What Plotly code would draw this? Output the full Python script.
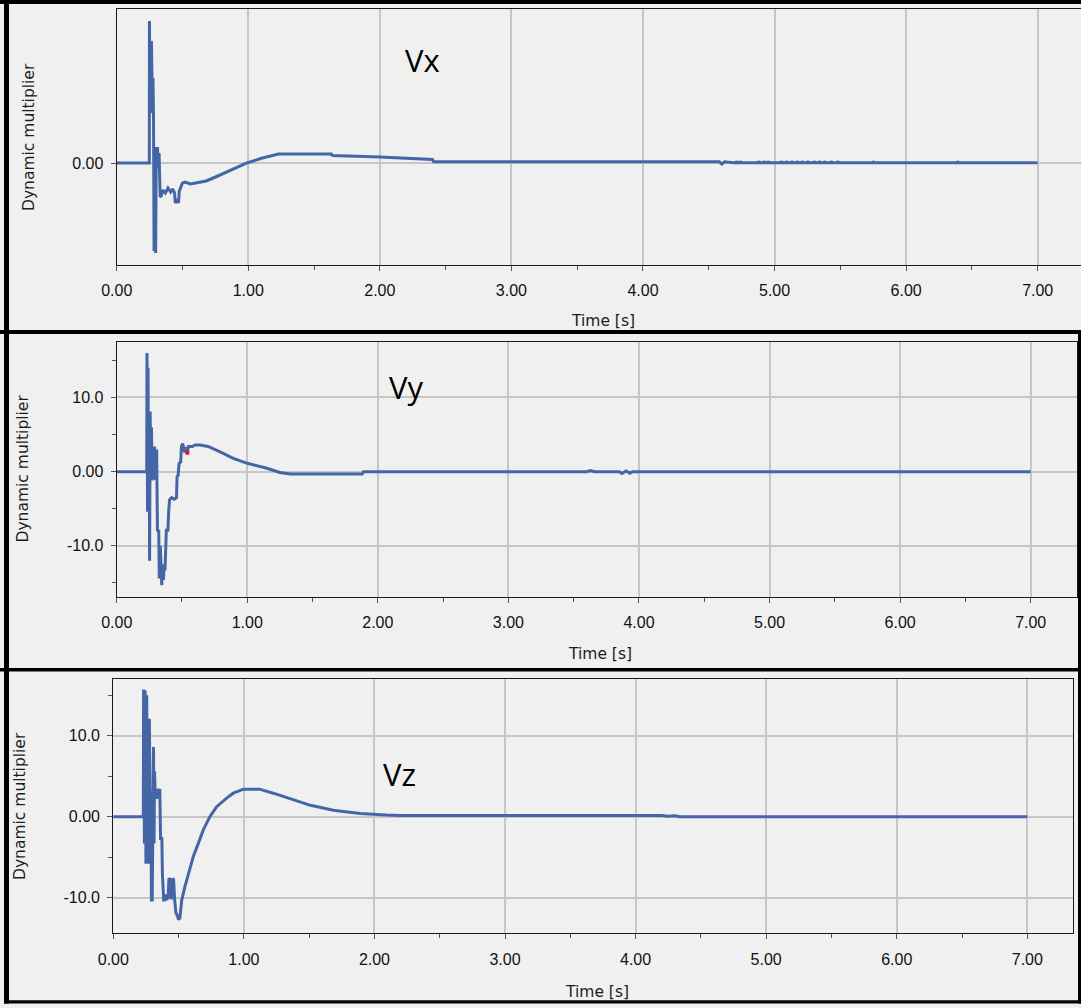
import plotly.graph_objects as go

# ---- data: dynamic multiplier time histories (time in s) ----
VX_T = [0.0, 0.248, 0.249, 0.252, 0.256, 0.260, 0.264, 0.268, 0.272, 0.276, 0.280,
        0.284, 0.290, 0.296, 0.301, 0.305, 0.310, 0.316, 0.322, 0.330, 0.337, 0.350,
        0.370, 0.390, 0.410, 0.425, 0.440, 0.445, 0.460, 0.470, 0.476, 0.490, 0.500,
        0.520, 0.560, 0.600, 0.680, 0.760, 0.990, 1.100, 1.230, 1.630, 1.640, 2.000,
        2.200, 2.400, 2.410, 4.580, 4.600, 4.620, 4.690, 7.000]
VX_V = [0.0, 0.0, 1.42, 0.55, 1.22, 0.55, 1.22, 0.85, 0.50, 0.85, 0.41,
        -0.88, -0.80, -0.90, 0.16, -0.05, 0.16, -0.05, 0.10, -0.33, -0.34, -0.27,
        -0.30, -0.25, -0.29, -0.26, -0.30, -0.40, -0.36, -0.40, -0.28, -0.22, -0.20,
        -0.19, -0.21, -0.20, -0.18, -0.135, 0.0, 0.047, 0.09, 0.09, 0.075, 0.06,
        0.05, 0.035, 0.012, 0.012, -0.01, 0.012, 0.003, 0.003]
# small numerical chatter on the settled Vx signal (time, peak)
VX_CHATTER_T = [4.71, 4.74, 4.88, 4.92, 4.95, 5.05, 5.09, 5.13, 5.17, 5.21, 5.25,
                5.30, 5.34, 5.38, 5.43, 5.48, 5.75, 6.39]
VX_CHATTER_V = [0.022, 0.022, 0.022, 0.022, 0.022, 0.022, 0.022, 0.022, 0.022, 0.022,
                0.022, 0.022, 0.022, 0.022, 0.022, 0.022, 0.02, 0.02]

VY_T = [0.0, 0.230, 0.232, 0.236, 0.240, 0.244, 0.248, 0.252, 0.256, 0.262, 0.266,
        0.272, 0.278, 0.284, 0.290, 0.298, 0.306, 0.312, 0.322, 0.326, 0.334, 0.340,
        0.345, 0.352, 0.358, 0.364, 0.370, 0.380, 0.392, 0.398, 0.405, 0.420, 0.440,
        0.458, 0.462, 0.470, 0.478, 0.490, 0.496, 0.505, 0.512, 0.520, 0.530, 0.540,
        0.550, 0.580, 0.600, 0.640, 0.700, 0.740, 0.800, 0.893, 1.000, 1.150, 1.250,
        1.330, 1.880, 1.890, 3.600, 3.630, 3.660, 3.850, 3.870, 3.900, 3.930, 3.950,
        7.000]
VY_V = [0.0, 0.0, 16.0, -5.4, 14.0, -5.4, 8.0, -12.0, 8.1, -1.1, 6.0,
        -1.2, 3.4, -1.0, 3.4, -1.1, 3.0, -7.9, -8.0, -14.4, -10.0, -14.8,
        -15.3, -12.5, -14.6, -12.5, -13.3, -7.9, -7.9, -5.4, -3.8, -3.5, -3.7,
        -3.5, -0.7, -0.5, 1.1, 1.3, 3.4, 3.8, 3.0, 2.6, 3.3, 2.6,
        3.4, 3.4, 3.6, 3.6, 3.4, 3.1, 2.6, 1.8, 1.13, 0.46, -0.1,
        -0.31, -0.31, 0.0, 0.0, 0.15, 0.0, 0.0, -0.25, 0.1, -0.2, 0.0,
        0.0]

VZ_T = [0.0, 0.230, 0.232, 0.238, 0.244, 0.250, 0.256, 0.262, 0.266, 0.272, 0.276,
        0.281, 0.288, 0.292, 0.298, 0.302, 0.308, 0.312, 0.316, 0.322, 0.326, 0.332,
        0.340, 0.350, 0.356, 0.362, 0.372, 0.376, 0.386, 0.392, 0.400, 0.410, 0.420,
        0.426, 0.436, 0.442, 0.450, 0.455, 0.462, 0.470, 0.480, 0.490, 0.500, 0.510,
        0.524, 0.549, 0.575, 0.613, 0.651, 0.690, 0.740, 0.790, 0.868, 0.919, 0.996,
        1.120, 1.225, 1.380, 1.510, 1.685, 1.890, 2.090, 2.200, 4.200, 4.250, 4.300,
        4.340, 7.000]
VZ_V = [0.0, 0.0, 15.7, -3.3, 15.6, -5.8, 15.0, -3.3, 12.1, -5.8, 12.1,
        3.1, 3.0, -10.3, -10.3, -3.1, 8.6, -3.3, 5.6, 2.2, 3.4, 2.2,
        3.4, 3.2, 3.4, -2.7, -2.7, -7.0, -10.3, -10.3, -9.6, -10.3, -9.8,
        -7.6, -7.8, -10.2, -9.8, -7.6, -7.8, -10.3, -11.9, -12.2, -12.7, -12.5,
        -10.3, -8.6, -7.0, -4.9, -3.3, -1.6, 0.0, 1.2, 2.3, 2.9, 3.4,
        3.4, 2.9, 2.1, 1.4, 0.8, 0.4, 0.2, 0.15, 0.15, 0.05, 0.12,
        0.0, 0.0]

# cursor mark on the Vy curve
CURSOR_T = [0.541]
CURSOR_V = [2.56]

PANEL_NAMES = ["Vx", "Vy", "Vz"]
X_TICKS = [0, 1, 2, 3, 4, 5, 6, 7]
X_TICK_TEXT = ["0.00", "1.00", "2.00", "3.00", "4.00", "5.00", "6.00", "7.00"]
Y_TICKS = [-10, 0, 10]
Y_TICK_TEXT = ["-10.0", "0.00", "10.0"]
Y_MINOR = [-15, -5, 5, 15]

# ---- styling / geometry ----
W, H = 1081, 1008
LINE_COLOR = "#4466a6"
BG = "#f0f0f0"
GRID = "#c6c6c6"
TICK_FONT = dict(family="Liberation Sans, Arial, sans-serif", size=16, color="#111111")
LABEL_FONT = dict(family="DejaVu Sans, Verdana, sans-serif", size=15.5, color="#1c1c1c")
NAME_FONT = dict(family="Open Sans, sans-serif", size=31, color="#000000")


def fx(px):
    return px / W


def fy(py):
    return 1 - py / H


# plot boxes in pixels: left, right, top, bottom
boxes = [
    (116.7, 1081.0, 9.0, 265.0),
    (116.7, 1076.7, 341.7, 596.7),
    (113.3, 1072.7, 679.0, 933.3),
]
x_scale = [131.57, 130.57, 130.57]          # px per second
y_ranges = [(-1.02, 1.54), (-16.85, 17.52), (-14.4, 17.0)]

# Vx with the chatter spikes merged in as narrow up/down excursions
vx_t, vx_v = [], []
spikes = list(zip(VX_CHATTER_T, VX_CHATTER_V))
for t, v in zip(VX_T, VX_V):
    while spikes and spikes[0][0] < t:
        st, sv = spikes.pop(0)
        vx_t += [st, st, st + 0.004]
        vx_v += [0.003, sv, 0.003]
    vx_t.append(t)
    vx_v.append(v)

fig = go.Figure()
series = [(vx_t, vx_v), (VY_T, VY_V), (VZ_T, VZ_V)]
for i, (t, v) in enumerate(series):
    sfx = "" if i == 0 else str(i + 1)
    fig.add_trace(go.Scatter(x=t, y=v, mode="lines", xaxis="x" + sfx, yaxis="y" + sfx,
                             line=dict(color=LINE_COLOR, width=3), showlegend=False,
                             hoverinfo="skip"))

fig.add_trace(go.Scatter(x=CURSOR_T, y=CURSOR_V, mode="markers", xaxis="x2", yaxis="y2",
                         marker=dict(color="#e0141e", size=4, symbol="square"),
                         showlegend=False, hoverinfo="skip"))

layout = dict(
    width=W, height=H,
    margin=dict(l=0, r=0, t=0, b=0, autoexpand=False),
    paper_bgcolor=BG, plot_bgcolor=BG,
    showlegend=False, hovermode=False,
)

for i, (l, r, t, b) in enumerate(boxes):
    sfx = "" if i == 0 else str(i + 1)
    xmax = (r - l) / x_scale[i]
    layout["xaxis" + sfx] = dict(
        domain=[fx(l), fx(r)], range=[0, xmax], anchor="y" + sfx, automargin=False,
        tickvals=X_TICKS, ticktext=X_TICK_TEXT, tickfont=TICK_FONT,
        ticks="outside", ticklen=5, tickcolor="#555555", tickwidth=1,
        ticklabelstandoff=6,
        showgrid=True, gridcolor=GRID, gridwidth=1.6, zeroline=False,
        showline=True, linecolor="#1a1a1a", linewidth=1.2, mirror=True,
        minor=dict(tickvals=[k + 0.5 for k in range(7)], ticks="outside", ticklen=4,
                   tickcolor="#555555", showgrid=False),
        fixedrange=True,
    )
    ydict = dict(
        domain=[fy(b), fy(t)], range=list(y_ranges[i]), anchor="x" + sfx, automargin=False,
        tickfont=TICK_FONT, ticks="outside", ticklen=5, tickcolor="#555555", tickwidth=1,
        ticklabelstandoff=4,
        showgrid=True, gridcolor=GRID, gridwidth=1.6, zeroline=False,
        showline=True, linecolor="#1a1a1a", linewidth=1.2,
        fixedrange=True,
    )
    if i == 0:
        ydict.update(tickvals=[0], ticktext=["0.00"], mirror=False)
    else:
        ydict.update(tickvals=Y_TICKS, ticktext=Y_TICK_TEXT, mirror=True,
                     minor=dict(tickvals=Y_MINOR, ticks="outside", ticklen=4,
                                tickcolor="#555555", showgrid=False))
    layout["yaxis" + sfx] = ydict

fig.update_layout(**layout)

# axis titles and curve names
ytitle_pos = [(29, 137), (22.5, 469), (20, 806)]
xtitle_pos = [(603, 321), (600, 654), (597, 992)]
name_pos = [(422.5, 60), (406, 387), (399, 774)]
for i in range(3):
    fig.add_annotation(text="Dynamic multiplier", x=fx(ytitle_pos[i][0]), y=fy(ytitle_pos[i][1]),
                       xref="paper", yref="paper", textangle=-90, showarrow=False,
                       xanchor="center", yanchor="middle", font=LABEL_FONT)
    fig.add_annotation(text="Time [s]", x=fx(xtitle_pos[i][0]), y=fy(xtitle_pos[i][1]),
                       xref="paper", yref="paper", showarrow=False,
                       xanchor="center", yanchor="middle", font=LABEL_FONT)
    fig.add_annotation(text=PANEL_NAMES[i], x=fx(name_pos[i][0]), y=fy(name_pos[i][1]),
                       xref="paper", yref="paper", showarrow=False,
                       xanchor="center", yanchor="middle", font=NAME_FONT)

# heavy black frames around the three panels
frames = [
    (0, W, 0, 4),            # top
    (4, 9, 0, 1003.5),       # left
    (0, W, 330, 334),        # between panels 1 and 2
    (0, W, 668, 671.5),      # between panels 2 and 3
    (4, W, 1000.3, 1003.5),  # bottom
    (1078, W, 330, 1003.5),  # right of lower panels
]
for x0, x1, y0, y1 in frames:
    fig.add_shape(type="rect", xref="paper", yref="paper",
                  x0=fx(x0), x1=fx(x1), y0=fy(y1), y1=fy(y0),
                  fillcolor="#000000", line=dict(width=0), layer="above")

fig.write_html("out.html")
